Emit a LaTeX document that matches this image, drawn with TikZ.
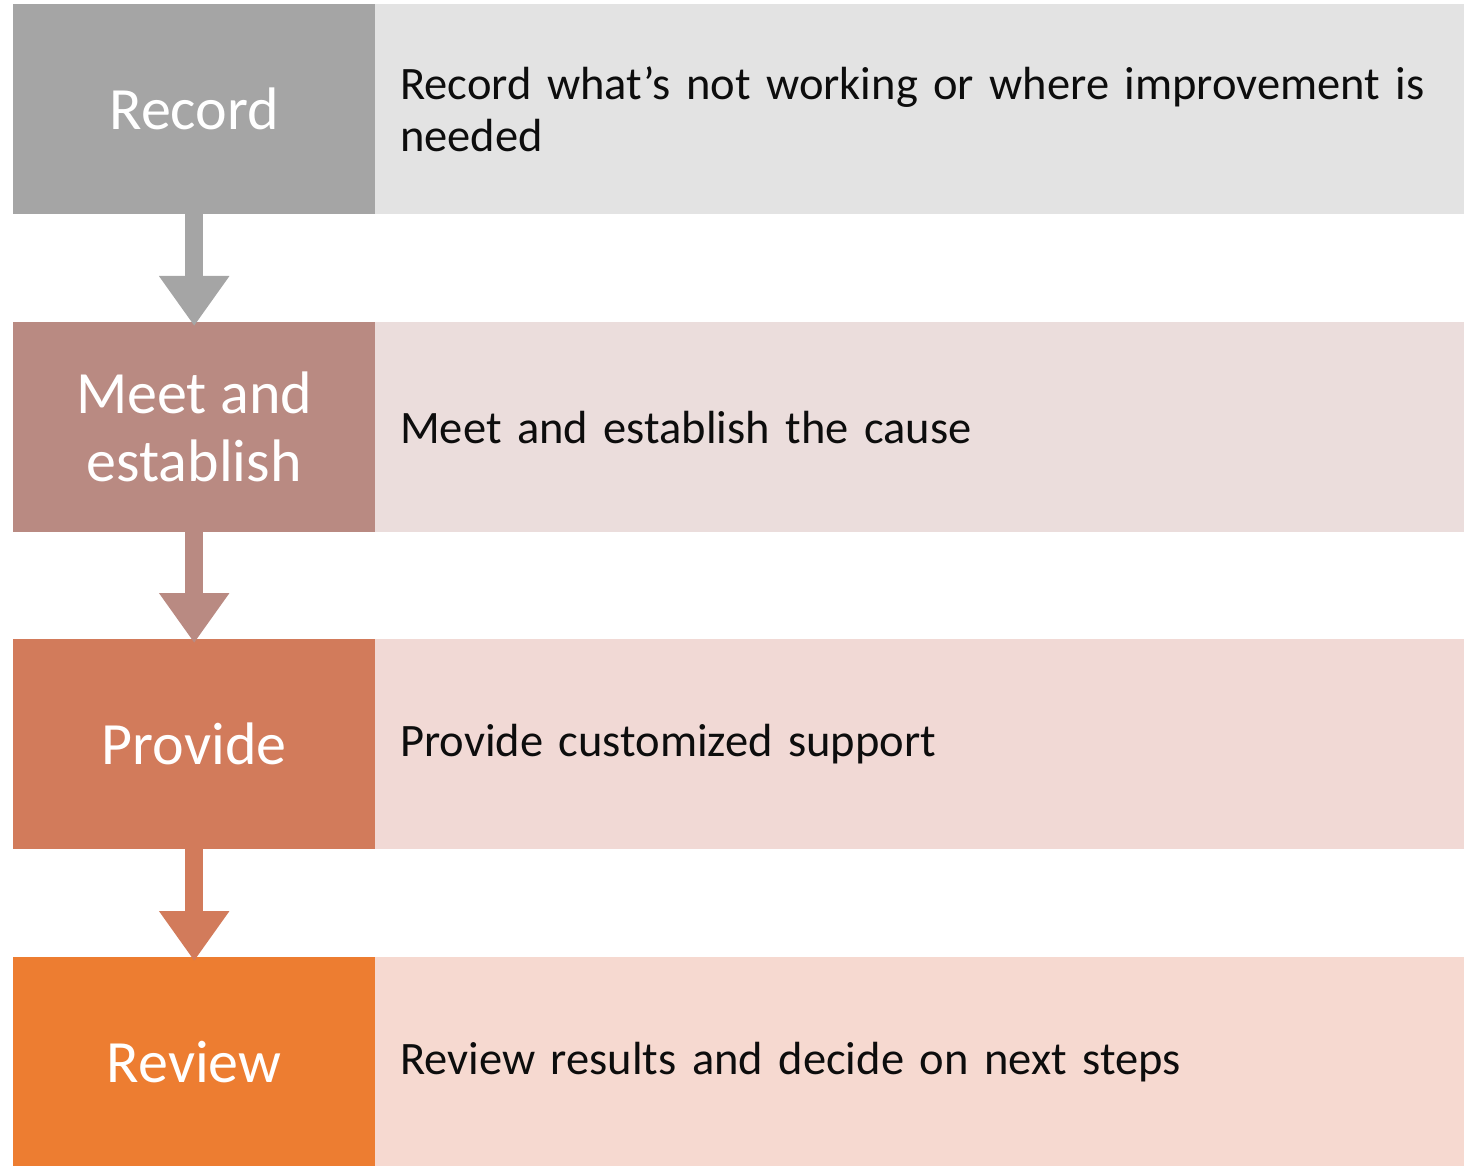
\documentclass[tikz,border=0pt]{standalone}
\usepackage{fontspec}
\setmainfont{Carlito}
\usetikzlibrary{arrows.meta}
\definecolor{c1}{HTML}{A5A5A5}
\definecolor{c1l}{HTML}{E3E3E3}
\definecolor{c2}{HTML}{B98A82}
\definecolor{c2l}{HTML}{EBDDDC}
\definecolor{c3}{HTML}{D27B5B}
\definecolor{c3l}{HTML}{F1D9D5}
\definecolor{c4}{HTML}{ED7D31}
\definecolor{c4l}{HTML}{F6D9D0}
\definecolor{txt}{HTML}{0D0D0D}
\begin{document}
\begin{tikzpicture}[x=1pt,y=-1pt,
  lbox/.style={fill=#1, draw=none, minimum width=362pt, minimum height=210pt, inner sep=0pt,
    text=white, font=\fontsize{60}{68}\selectfont, align=center, anchor=north west},
  rbox/.style={fill=#1, draw=none, minimum height=210pt, inner xsep=25pt, inner ysep=0pt,
    text width=1039pt, text=txt, font=\fontsize{46.5}{52}\selectfont, align=left, anchor=north west},
  flow/.style={draw=#1, line width=18pt, -{Triangle[width=67pt,length=50pt]}, shorten >=-4pt}
]
\useasboundingbox (0,0) rectangle (1470,1166);
\node[lbox=c1] (l1) at (13,4) {Record};
\node[rbox=c1l] (r1) at (375,4) {Record what’s not working or where improvement is\\needed};
\node[lbox=c2] (l2) at (13,322) {Meet and\\establish};
\node[rbox=c2l] (r2) at (375,322) {Meet and establish the cause};
\node[lbox=c3] (l3) at (13,639) {Provide};
\node[rbox=c3l] (r3) at (375,639) {Provide customized support};
\node[lbox=c4] (l4) at (13,957) {Review};
\node[rbox=c4l] (r4) at (375,957) {Review results and decide on next steps};
\draw[flow=c1] (l1.south) -- (l2.north);
\draw[flow=c2] (l2.south) -- (l3.north);
\draw[flow=c3] (l3.south) -- (l4.north);
\end{tikzpicture}
\end{document}
